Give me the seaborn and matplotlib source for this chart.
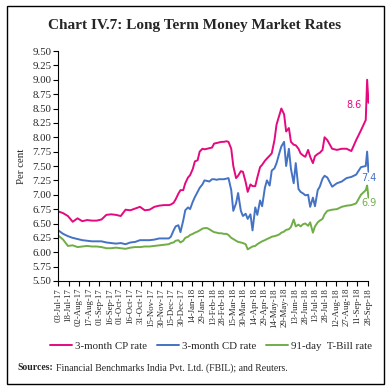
import matplotlib
matplotlib.use("Agg")
import matplotlib.pyplot as plt
from matplotlib.patches import Rectangle
import pandas as pd
import seaborn as sns

# ---------------- data ----------------
dates = [
    "2017-07-03", "2017-07-10", "2017-07-17", "2017-07-24", "2017-07-31", "2017-08-07",
    "2017-08-14", "2017-08-21", "2017-08-28", "2017-09-04", "2017-09-11", "2017-09-18",
    "2017-09-25", "2017-10-02", "2017-10-09", "2017-10-16", "2017-10-23", "2017-10-30",
    "2017-11-06", "2017-11-13", "2017-11-20", "2017-11-27", "2017-12-04",
    "2017-12-11", "2017-12-14", "2017-12-18", "2017-12-21", "2017-12-25", "2017-12-28",
    "2018-01-01", "2018-01-04", "2018-01-08", "2018-01-11", "2018-01-15", "2018-01-18",
    "2018-01-22", "2018-01-25", "2018-01-29", "2018-02-01", "2018-02-05", "2018-02-08",
    "2018-02-12", "2018-02-15", "2018-02-19", "2018-02-22", "2018-02-26", "2018-03-01",
    "2018-03-05", "2018-03-08", "2018-03-12", "2018-03-15", "2018-03-19", "2018-03-22",
    "2018-03-26", "2018-03-29", "2018-04-02", "2018-04-05", "2018-04-09", "2018-04-12",
    "2018-04-16", "2018-04-19", "2018-04-23", "2018-04-26", "2018-04-30", "2018-05-03",
    "2018-05-07", "2018-05-10", "2018-05-14", "2018-05-17", "2018-05-21", "2018-05-24",
    "2018-05-28", "2018-05-31", "2018-06-04", "2018-06-07", "2018-06-11", "2018-06-14",
    "2018-06-18", "2018-06-21", "2018-06-25", "2018-06-28", "2018-07-02", "2018-07-05",
    "2018-07-09", "2018-07-12", "2018-07-16", "2018-07-19", "2018-07-23", "2018-07-26",
    "2018-07-30", "2018-08-06", "2018-08-13", "2018-08-20", "2018-08-27", "2018-09-03",
    "2018-09-10", "2018-09-17", "2018-09-24", "2018-09-26", "2018-09-28",
]

cp_rate = [
    6.71, 6.68, 6.63, 6.53, 6.59, 6.54, 6.56, 6.55, 6.55, 6.57, 6.65, 6.66,
    6.65, 6.63, 6.74, 6.73, 6.76, 6.79, 6.73, 6.74, 6.79, 6.81, 6.82,
    6.82, 6.83, 6.86, 6.92, 7.02, 7.08,
    7.08, 7.20, 7.30, 7.34, 7.45, 7.58,
    7.60, 7.75, 7.80, 7.79, 7.80, 7.81,
    7.82, 7.89, 7.90, 7.91, 7.92, 7.92,
    7.93, 7.92, 7.80, 7.50, 7.29, 7.33,
    7.41, 7.40, 7.22, 7.05, 7.18, 7.15,
    7.15, 7.30, 7.48, 7.52, 7.59, 7.63,
    7.68, 7.72, 7.95, 8.22, 8.38, 8.50,
    8.40, 8.10, 8.16, 7.92, 7.87, 7.86,
    7.80, 7.72, 7.68, 7.66, 7.78, 7.66,
    7.55, 7.67, 7.71, 7.73, 7.78, 8.00,
    7.95, 7.80, 7.78, 7.80, 7.80, 7.76,
    7.95, 8.12, 8.30, 9.00, 8.60,
]

cd_rate = [
    6.38, 6.32, 6.28, 6.25, 6.23, 6.21, 6.20, 6.19, 6.19, 6.19, 6.17, 6.16,
    6.15, 6.16, 6.14, 6.17, 6.18, 6.21, 6.21, 6.21, 6.22, 6.24, 6.24,
    6.24, 6.27, 6.38, 6.45, 6.47, 6.35,
    6.55, 6.73, 6.78, 6.75, 6.88, 6.96,
    7.05, 7.12, 7.18, 7.25, 7.24, 7.23,
    7.27, 7.27, 7.26, 7.27, 7.27, 7.27,
    7.28, 7.29, 7.08, 6.72, 6.85, 7.03,
    6.72, 6.63, 6.67, 6.58, 6.66, 6.38,
    6.78, 6.65, 6.90, 6.80, 7.12, 7.25,
    7.16, 7.42, 7.46, 7.55, 7.72, 7.84,
    7.92, 7.50, 7.80, 7.45, 7.20, 7.55,
    7.10, 7.05, 7.02, 6.99, 7.00, 6.79,
    6.95, 6.80, 7.08, 7.14, 7.28, 7.33,
    7.30, 7.14, 7.20, 7.23, 7.29, 7.31,
    7.35, 7.48, 7.50, 7.75, 7.40,
]

tbill_rate = [
    6.29, 6.22, 6.11, 6.12, 6.09, 6.10, 6.11, 6.10, 6.10, 6.09, 6.07, 6.07,
    6.08, 6.07, 6.06, 6.08, 6.09, 6.09, 6.10, 6.10, 6.11, 6.12, 6.13,
    6.14, 6.16, 6.17, 6.20, 6.21, 6.17,
    6.20, 6.25, 6.27, 6.30, 6.32, 6.34,
    6.36, 6.38, 6.41, 6.42, 6.42, 6.40,
    6.37, 6.35, 6.34, 6.33, 6.33, 6.32,
    6.32, 6.30, 6.25, 6.23, 6.20, 6.18,
    6.17, 6.16, 6.14, 6.05, 6.08, 6.10,
    6.11, 6.14, 6.17, 6.19, 6.21, 6.23,
    6.25, 6.27, 6.28, 6.29, 6.31, 6.34,
    6.36, 6.39, 6.40, 6.44, 6.57, 6.45,
    6.48, 6.45, 6.49, 6.50, 6.46, 6.52,
    6.34, 6.45, 6.52, 6.55, 6.58, 6.66,
    6.72, 6.74, 6.75, 6.79, 6.81, 6.82,
    6.85, 7.00, 7.08, 7.16, 6.95,
]

series_names = ["3-month CP rate", "3-month CD rate", "91-day  T-Bill rate"]
series_colors = ["#E5097F", "#4472C4", "#70AD47"]
end_labels = ["8.6", "7.4", "6.9"]

tick_labels = [
    "03-Jul-17", "18-Jul-17", "02-Aug-17", "17-Aug-17", "01-Sep-17", "16-Sep-17",
    "01-Oct-17", "16-Oct-17", "31-Oct-17", "15-Nov-17", "30-Nov-17", "15-Dec-17",
    "30-Dec-17", "14-Jan-18", "29-Jan-18", "13-Feb-18", "28-Feb-18", "15-Mar-18",
    "30-Mar-18", "14-Apr-18", "29-Apr-18", "14-May-18", "29-May-18", "13-Jun-18",
    "28-Jun-18", "13-Jul-18", "28-Jul-18", "12-Aug-18", "27-Aug-18", "11-Sep-18",
    "28-Sep-18",
]
y_ticks = [5.50, 5.75, 6.00, 6.25, 6.50, 6.75, 7.00, 7.25, 7.50, 7.75,
           8.00, 8.25, 8.50, 8.75, 9.00, 9.25, 9.50]

# ---------------- build frame ----------------
dt = pd.to_datetime(dates)
frames = []
for name, vals in zip(series_names, [cp_rate, cd_rate, tbill_rate]):
    frames.append(pd.DataFrame({"Date": dt, "Rate": vals, "Series": name}))
df = pd.concat(frames, ignore_index=True)

sns.set_style("white")
serif = ["Liberation Serif", "DejaVu Serif"]
plt.rcParams["font.family"] = serif

W, H = 391, 389
fig = plt.figure(figsize=(W / 100, H / 100), dpi=100)
ax = fig.add_axes([58.3 / W, 1 - 281 / H, (368.5 - 58.3) / W, (281 - 51) / H])

sns.lineplot(data=df, x="Date", y="Rate", hue="Series", hue_order=series_names,
             palette=series_colors, linewidth=1.4, ax=ax, legend=False)

tick_dates = pd.to_datetime(tick_labels, format="%d-%b-%y")
ax.set_xlim(tick_dates[0], tick_dates[-1])
ax.set_xticks(tick_dates)
ax.set_xticklabels(tick_labels, rotation=90, fontsize=6.3)
ax.set_ylim(5.5, 9.5)
ax.set_yticks(y_ticks)
ax.set_yticklabels([f"{v:.2f}" for v in y_ticks], fontsize=7.8)
ax.set_xlabel("")
ax.set_ylabel("")
for s in ["top", "right"]:
    ax.spines[s].set_visible(False)
for s in ["left", "bottom"]:
    ax.spines[s].set_color("black")
    ax.spines[s].set_linewidth(0.8)
ax.tick_params(axis="both", direction="out", length=3.5, width=0.8, color="black",
               pad=1.5, left=True, bottom=True)

# end labels
last_date = dt[-1]
ax.annotate(end_labels[0], xy=(last_date, 8.56), xytext=(-5, 0), textcoords="offset points",
            ha="right", va="center", fontsize=7, color=series_colors[0], family="DejaVu Sans")
ax.annotate(end_labels[1], xy=(last_date, 7.29), xytext=(-5, 0), textcoords="offset points",
            ha="left", va="center", fontsize=7, color=series_colors[1], family="DejaVu Sans",
            annotation_clip=False)
ax.annotate(end_labels[2], xy=(last_date, 6.86), xytext=(-5, 0), textcoords="offset points",
            ha="left", va="center", fontsize=7, color=series_colors[2], family="DejaVu Sans",
            annotation_clip=False)

# y label
fig.text(22 / W, 1 - 166 / H, "Per cent", rotation=90, ha="center", va="center", fontsize=7.8)

# title
fig.text(195 / W, 1 - 25 / H, "Chart IV.7: Long Term Money Market Rates", ha="center",
         va="center", fontsize=11, fontweight="bold")

# legend
handles = [plt.Line2D([], [], color=c, lw=1.4) for c in series_colors]
fig.legend(handles, series_names, loc="center", bbox_to_anchor=(211 / W, 1 - 346 / H),
           ncol=3, frameon=False, fontsize=7.8, handlelength=2.0, handletextpad=0.3,
           columnspacing=0.9)

# sources
t1 = fig.text(17 / W, 1 - 368 / H, "Sources:", ha="left", va="center", fontsize=7,
              fontweight="bold")
fig.canvas.draw()
bb = t1.get_window_extent(fig.canvas.get_renderer())
fig.text((bb.x1 + 3) / W, 1 - 368 / H,
         "Financial Benchmarks India Pvt. Ltd. (FBIL); and Reuters.",
         ha="left", va="center", fontsize=7)

# outer frame
fig.patches.append(Rectangle((7 / W, 1 - 384 / H), (384 - 7) / W, (384 - 6) / H,
                             transform=fig.transFigure, fill=False, edgecolor="black",
                             linewidth=1.0))

fig.savefig("out.png", dpi=100)
